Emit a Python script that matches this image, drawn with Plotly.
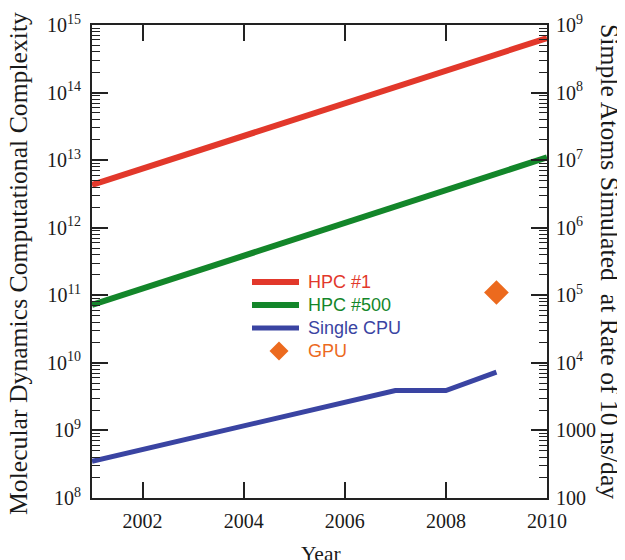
import plotly.graph_objects as go

# ---- data ----
years_hpc = [2001, 2010]
hpc1 = [4.3e12, 6.4e14]
hpc500 = [7.2e10, 1.1e13]
years_cpu = [2001, 2007, 2008, 2009]
single_cpu = [3.5e8, 3.9e9, 3.9e9, 7.3e9]
years_gpu = [2009]
gpu = [1.1e11]

x_ticks = [2002, 2004, 2006, 2008, 2010]
left_tickvals = [1e8, 1e9, 1e10, 1e11, 1e12, 1e13, 1e14, 1e15]
left_ticktext = ["10<sup>8</sup>", "10<sup>9</sup>", "10<sup>10</sup>", "10<sup>11</sup>",
                 "10<sup>12</sup>", "10<sup>13</sup>", "10<sup>14</sup>", "10<sup>15</sup>"]
right_tickvals = [1e2, 1e3, 1e4, 1e5, 1e6, 1e7, 1e8, 1e9]
right_ticktext = ["100", "1000", "10<sup>4</sup>", "10<sup>5</sup>", "10<sup>6</sup>",
                  "10<sup>7</sup>", "10<sup>8</sup>", "10<sup>9</sup>"]

names = ["HPC #1", "HPC #500", "Single CPU", "GPU"]
colors = ["#e2382b", "#13862a", "#3a44a2", "#ec6a1e"]

SERIF = "Liberation Serif"
SANS = "Liberation Sans"
AX = "#222222"
TXT = "#1a1a1a"

# page geometry (the page body has an 8px margin)
OFF = 8
L, T, W, H = 92, 25, 455, 473          # plot area in page pixels
FIG_W, FIG_H = 625 - OFF, 560 - OFF

def px(xp): return (xp - L) / W
def py(yp): return 1 - (yp - T) / H

fig = go.Figure()
fig.add_trace(go.Scatter(x=years_hpc, y=hpc1, mode="lines", name=names[0],
                         line=dict(color=colors[0], width=6), showlegend=False))
fig.add_trace(go.Scatter(x=years_hpc, y=hpc500, mode="lines", name=names[1],
                         line=dict(color=colors[1], width=6), showlegend=False))
fig.add_trace(go.Scatter(x=years_cpu, y=single_cpu, mode="lines", name=names[2],
                         line=dict(color=colors[2], width=5), showlegend=False))
fig.add_trace(go.Scatter(x=years_gpu, y=gpu, mode="markers", name=names[3],
                         marker=dict(color=colors[3], symbol="diamond", size=19),
                         showlegend=False, cliponaxis=False))
# empty trace so the right-hand axis is drawn
fig.add_trace(go.Scatter(x=[], y=[], yaxis="y2", showlegend=False, hoverinfo="skip"))

# manual legend
legend_y = [282, 305, 328, 351]
shapes = []
annotations = []
for i in range(3):
    shapes.append(dict(type="line", xref="paper", yref="paper",
                       x0=px(252), x1=px(299), y0=py(legend_y[i]), y1=py(legend_y[i]),
                       line=dict(color=colors[i], width=6 if i < 2 else 5)))
cx, cy, r = 279, legend_y[3], 9.5
shapes.append(dict(type="path", xref="paper", yref="paper",
                   path=f"M {px(cx - r)} {py(cy)} L {px(cx)} {py(cy - r)} L {px(cx + r)} {py(cy)} L {px(cx)} {py(cy + r)} Z",
                   fillcolor=colors[3], line=dict(width=0)))
for i in range(4):
    annotations.append(dict(text=names[i], xref="paper", yref="paper",
                            x=px(306), y=py(legend_y[i]), xanchor="left", yanchor="middle",
                            showarrow=False, font=dict(family=SANS, size=18, color=colors[i])))

annotations.append(dict(text="Molecular Dynamics Computational Complexity", xref="paper", yref="paper",
                        x=px(19), y=py(264), textangle=-90, xanchor="center", yanchor="middle",
                        showarrow=False, font=dict(family=SERIF, size=25.7, color=TXT)))
annotations.append(dict(text="Simple Atoms Simulated&nbsp; at Rate of 10 ns/day", xref="paper", yref="paper",
                        x=px(610), y=py(261), textangle=90, xanchor="center", yanchor="middle",
                        showarrow=False, font=dict(family=SERIF, size=25.7, color=TXT)))
annotations.append(dict(text="Year", xref="paper", yref="paper",
                        x=px(321), y=py(554), xanchor="center", yanchor="middle",
                        showarrow=False, font=dict(family=SERIF, size=21.5, color=TXT)))

axis_common = dict(ticks="inside", ticklen=16, tickwidth=1.5, tickcolor=AX,
                   showline=True, linecolor=AX, linewidth=2, showgrid=False, zeroline=False,
                   tickfont=dict(family=SERIF, size=20, color=TXT))
minor = dict(ticks="inside", ticklen=8, tickwidth=1.2, tickcolor=AX, dtick="D1", showgrid=False)

fig.update_layout(
    width=FIG_W, height=FIG_H,
    margin=dict(l=L - OFF, r=FIG_W - (L - OFF) - W, t=T - OFF, b=FIG_H - (T - OFF) - H, autoexpand=False),
    plot_bgcolor="white", paper_bgcolor="white",
    showlegend=False,
    shapes=shapes, annotations=annotations,
    xaxis=dict(range=[2001, 2010], tickvals=x_ticks, mirror="ticks", ticklabelstandoff=4, **axis_common),
    yaxis=dict(type="log", range=[8, 15], tickvals=left_tickvals, ticktext=left_ticktext,
               minor=minor, ticklabelstandoff=5, **axis_common),
    yaxis2=dict(type="log", range=[2, 9], overlaying="y", side="right", anchor="x",
                tickvals=right_tickvals, ticktext=right_ticktext,
                minor=minor, ticklabelstandoff=3, **axis_common),
)

fig.write_html("out.html")
